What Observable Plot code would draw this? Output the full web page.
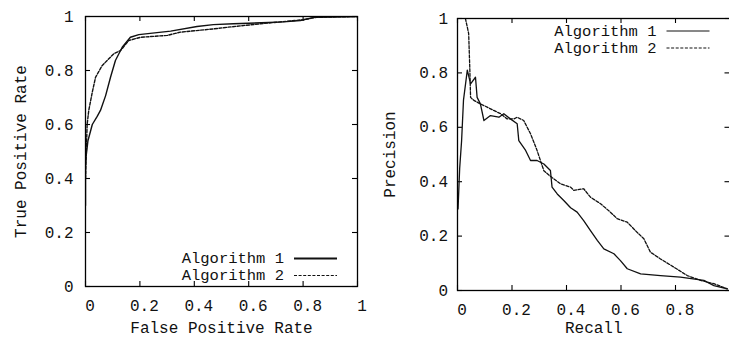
<!DOCTYPE html>
<html>
<head>
<meta charset="utf-8">
<script src="https://cdn.jsdelivr.net/npm/d3@7"></script>
<script src="https://cdn.jsdelivr.net/npm/@observablehq/plot@0.6"></script>
<style>
  html, body { margin: 0; padding: 0; background: #fff; overflow: hidden; }
  #wrap { position: relative; width: 729px; height: 338px; overflow: hidden; }
  #wrap svg { position: absolute; top: 0; }
</style>
</head>
<body>
<div id="wrap"></div>
<script>
// Series names
const seriesNames = ["Algorithm 1", "Algorithm 2"];

// ROC curves
const rocAlg1FPR = [0, 0, 0.002, 0.009, 0.025, 0.043, 0.055, 0.074, 0.092, 0.11, 0.135, 0.165, 0.196, 0.313, 0.41, 0.47, 0.544, 0.728, 0.79, 0.84, 1.0];
const rocAlg1TPR = [0.30, 0.45, 0.48, 0.54, 0.60, 0.63, 0.652, 0.707, 0.775, 0.837, 0.886, 0.923, 0.933, 0.946, 0.963, 0.97, 0.973, 0.98, 0.985, 0.997, 1.0];
const rocAlg2FPR = [0, 0.003, 0.006, 0.012, 0.025, 0.037, 0.061, 0.104, 0.129, 0.159, 0.202, 0.30, 0.349, 0.47, 0.52, 0.643, 0.80, 0.85, 1.0];
const rocAlg2TPR = [0.40, 0.50, 0.60, 0.652, 0.72, 0.775, 0.818, 0.862, 0.874, 0.911, 0.923, 0.93, 0.942, 0.954, 0.96, 0.973, 0.988, 0.997, 1.0];

// Precision-recall curves
const prAlg1Recall = [0.002, 0.008, 0.015, 0.022, 0.036, 0.048, 0.066, 0.072, 0.084, 0.097, 0.121, 0.152, 0.17, 0.194, 0.219, 0.225, 0.25, 0.268, 0.292, 0.317, 0.341, 0.347, 0.366, 0.39, 0.415, 0.439, 0.463, 0.488, 0.513, 0.537, 0.574, 0.598, 0.623, 0.672, 0.745, 0.818, 0.904, 0.941, 0.99];
const prAlg1Precision = [0.30, 0.45, 0.55, 0.70, 0.81, 0.76, 0.784, 0.71, 0.686, 0.625, 0.643, 0.637, 0.65, 0.631, 0.613, 0.551, 0.515, 0.478, 0.478, 0.465, 0.441, 0.38, 0.355, 0.331, 0.304, 0.288, 0.257, 0.22, 0.184, 0.153, 0.135, 0.11, 0.08, 0.061, 0.055, 0.049, 0.037, 0.018, 0.006];
const prAlg2Recall = [0.029, 0.036, 0.041, 0.045, 0.048, 0.06, 0.084, 0.109, 0.133, 0.158, 0.182, 0.207, 0.219, 0.243, 0.268, 0.292, 0.317, 0.347, 0.378, 0.415, 0.427, 0.463, 0.488, 0.525, 0.561, 0.586, 0.623, 0.659, 0.684, 0.708, 0.745, 0.794, 0.843, 0.892, 0.941, 0.99];
const prAlg2Precision = [1.0, 0.968, 0.944, 0.821, 0.71, 0.699, 0.686, 0.674, 0.662, 0.65, 0.631, 0.631, 0.637, 0.625, 0.576, 0.515, 0.44, 0.415, 0.392, 0.38, 0.368, 0.374, 0.343, 0.319, 0.288, 0.264, 0.251, 0.214, 0.19, 0.141, 0.116, 0.086, 0.055, 0.037, 0.025, 0.006];

// Tick values and labels
const tickValues = [0, 0.2, 0.4, 0.6, 0.8, 1];
const tickLabels = ["0", "0.2", "0.4", "0.6", "0.8", "1"];
const prXTickValues = [0, 0.2, 0.4, 0.6, 0.8];
const prXTickLabels = ["0", "0.2", "0.4", "0.6", "0.8"];

const FONT = "'Liberation Mono', 'DejaVu Sans Mono', monospace";
const DASH = "3,1.6";

function pairs(xs, ys) { return xs.map((x, i) => ({x, y: ys[i]})); }

function panel(opts) {
  const {width, height, margin, xTicks, xLabels, yTicks, yLabels, xLabel, yLabel,
         series, yLabelDx, yTickDx, xLabelDy, lineWidth} = opts;
  const innerW = width - margin.left - margin.right;
  const innerH = height - margin.top - margin.bottom;
  const tk = 5;
  const marks = [
    // inward tick marks on all four sides
    Plot.tickX(xTicks, {x: d => d, insetTop: innerH - tk, stroke: "#000", strokeWidth: 1.1}),
    Plot.tickX(xTicks, {x: d => d, insetBottom: innerH - tk, stroke: "#000", strokeWidth: 1.1}),
    Plot.tickY(yTicks, {y: d => d, insetRight: innerW - tk, stroke: "#000", strokeWidth: 1.1}),
    Plot.tickY(yTicks, {y: d => d, insetLeft: innerW - tk, stroke: "#000", strokeWidth: 1.1}),
    // tick labels
    Plot.text(xTicks, {x: d => d, text: (d, i) => xLabels[i], frameAnchor: "bottom", dy: 19, dx: 4.5,
      lineAnchor: "middle", textAnchor: "middle", fontSize: 16, fill: "#111"}),
    Plot.text(yTicks, {y: d => d, text: (d, i) => yLabels[i], frameAnchor: "left", dx: yTickDx,
      lineAnchor: "middle", textAnchor: "end", fontSize: 16, fill: "#111"}),
    // axis titles
    Plot.text([xLabel], {text: d => d, frameAnchor: "bottom", dy: xLabelDy, lineAnchor: "middle",
      textAnchor: "middle", fontSize: 16, fill: "#111"}),
    Plot.text([yLabel], {text: d => d, frameAnchor: "left", dx: yLabelDx, rotate: -90, lineAnchor: "middle",
      textAnchor: "middle", fontSize: 16, fill: "#111"}),
    // curves
    ...series.map(s => Plot.line(s.data, {x: "x", y: "y", stroke: "#111", strokeWidth: lineWidth,
      strokeDasharray: s.dash, clip: true, curve: "linear"})),
    Plot.frame({stroke: "#000", strokeWidth: 1.3})
  ];
  return Plot.plot({
    width, height,
    marginLeft: margin.left, marginRight: margin.right, marginTop: margin.top, marginBottom: margin.bottom,
    x: {domain: [0, 1], axis: null},
    y: {domain: [0, 1], axis: null},
    style: {fontFamily: FONT, background: "#fff"},
    marks
  });
}

function addLegend(svg, opts) {
  const {frameRight, rows, textDx, lineX1, lineX2, legendWidths} = opts;
  const g = d3.select(svg).append("g").attr("font-family", FONT).attr("font-size", 15.5).attr("fill", "#111");
  rows.forEach((r, i) => {
    g.append("text").attr("x", frameRight + textDx).attr("y", r.y).attr("dy", "0.32em")
      .attr("text-anchor", "end").text(r.name);
    g.append("line").attr("x1", frameRight + lineX1).attr("x2", frameRight + lineX2)
      .attr("y1", r.y).attr("y2", r.y).attr("stroke", "#111")
      .attr("stroke-width", legendWidths[i]).attr("stroke-dasharray", r.dash);
  });
}

const wrap = document.getElementById("wrap");

// ROC panel
const rocMargin = {left: 85, right: 13, top: 16, bottom: 52};
const roc = panel({
  width: 370, height: 338, margin: rocMargin,
  xTicks: tickValues, xLabels: tickLabels, yTicks: tickValues, yLabels: tickLabels,
  xLabel: "False Positive Rate", yLabel: "True Positive Rate",
  yLabelDx: -65, yTickDx: -12, xLabelDy: 41, lineWidth: 1.4,
  series: [
    {data: pairs(rocAlg1FPR, rocAlg1TPR), dash: null},
    {data: pairs(rocAlg2FPR, rocAlg2TPR), dash: DASH}
  ]
});
roc.style.left = "0px";
wrap.appendChild(roc);
addLegend(roc, {
  frameRight: 370 - rocMargin.right, textDx: -73, lineX1: -63, lineX2: -20,
  legendWidths: [2, 1.2],
  rows: [
    {name: seriesNames[0], y: 338 - rocMargin.bottom - 27.5, dash: null},
    {name: seriesNames[1], y: 338 - rocMargin.bottom - 10.5, dash: DASH}
  ]
});

// Precision-recall panel
const prMargin = {left: 87, right: 10.5, top: 18, bottom: 48};
const pr = panel({
  width: 370, height: 338, margin: prMargin,
  xTicks: prXTickValues, xLabels: prXTickLabels, yTicks: tickValues, yLabels: tickLabels,
  xLabel: "Recall", yLabel: "Precision",
  yLabelDx: -68, yTickDx: -9.5, xLabelDy: 37.5, lineWidth: 1.3,
  series: [
    {data: pairs(prAlg1Recall, prAlg1Precision), dash: null},
    {data: pairs(prAlg2Recall, prAlg2Precision), dash: DASH}
  ]
});
pr.style.left = "370px";
wrap.appendChild(pr);
addLegend(pr, {
  frameRight: 370 - prMargin.right, textDx: -73, lineX1: -63, lineX2: -20,
  legendWidths: [1, 1.2],
  rows: [
    {name: seriesNames[0], y: prMargin.top + 13, dash: null},
    {name: seriesNames[1], y: prMargin.top + 30, dash: DASH}
  ]
});
</script>
</body>
</html>
